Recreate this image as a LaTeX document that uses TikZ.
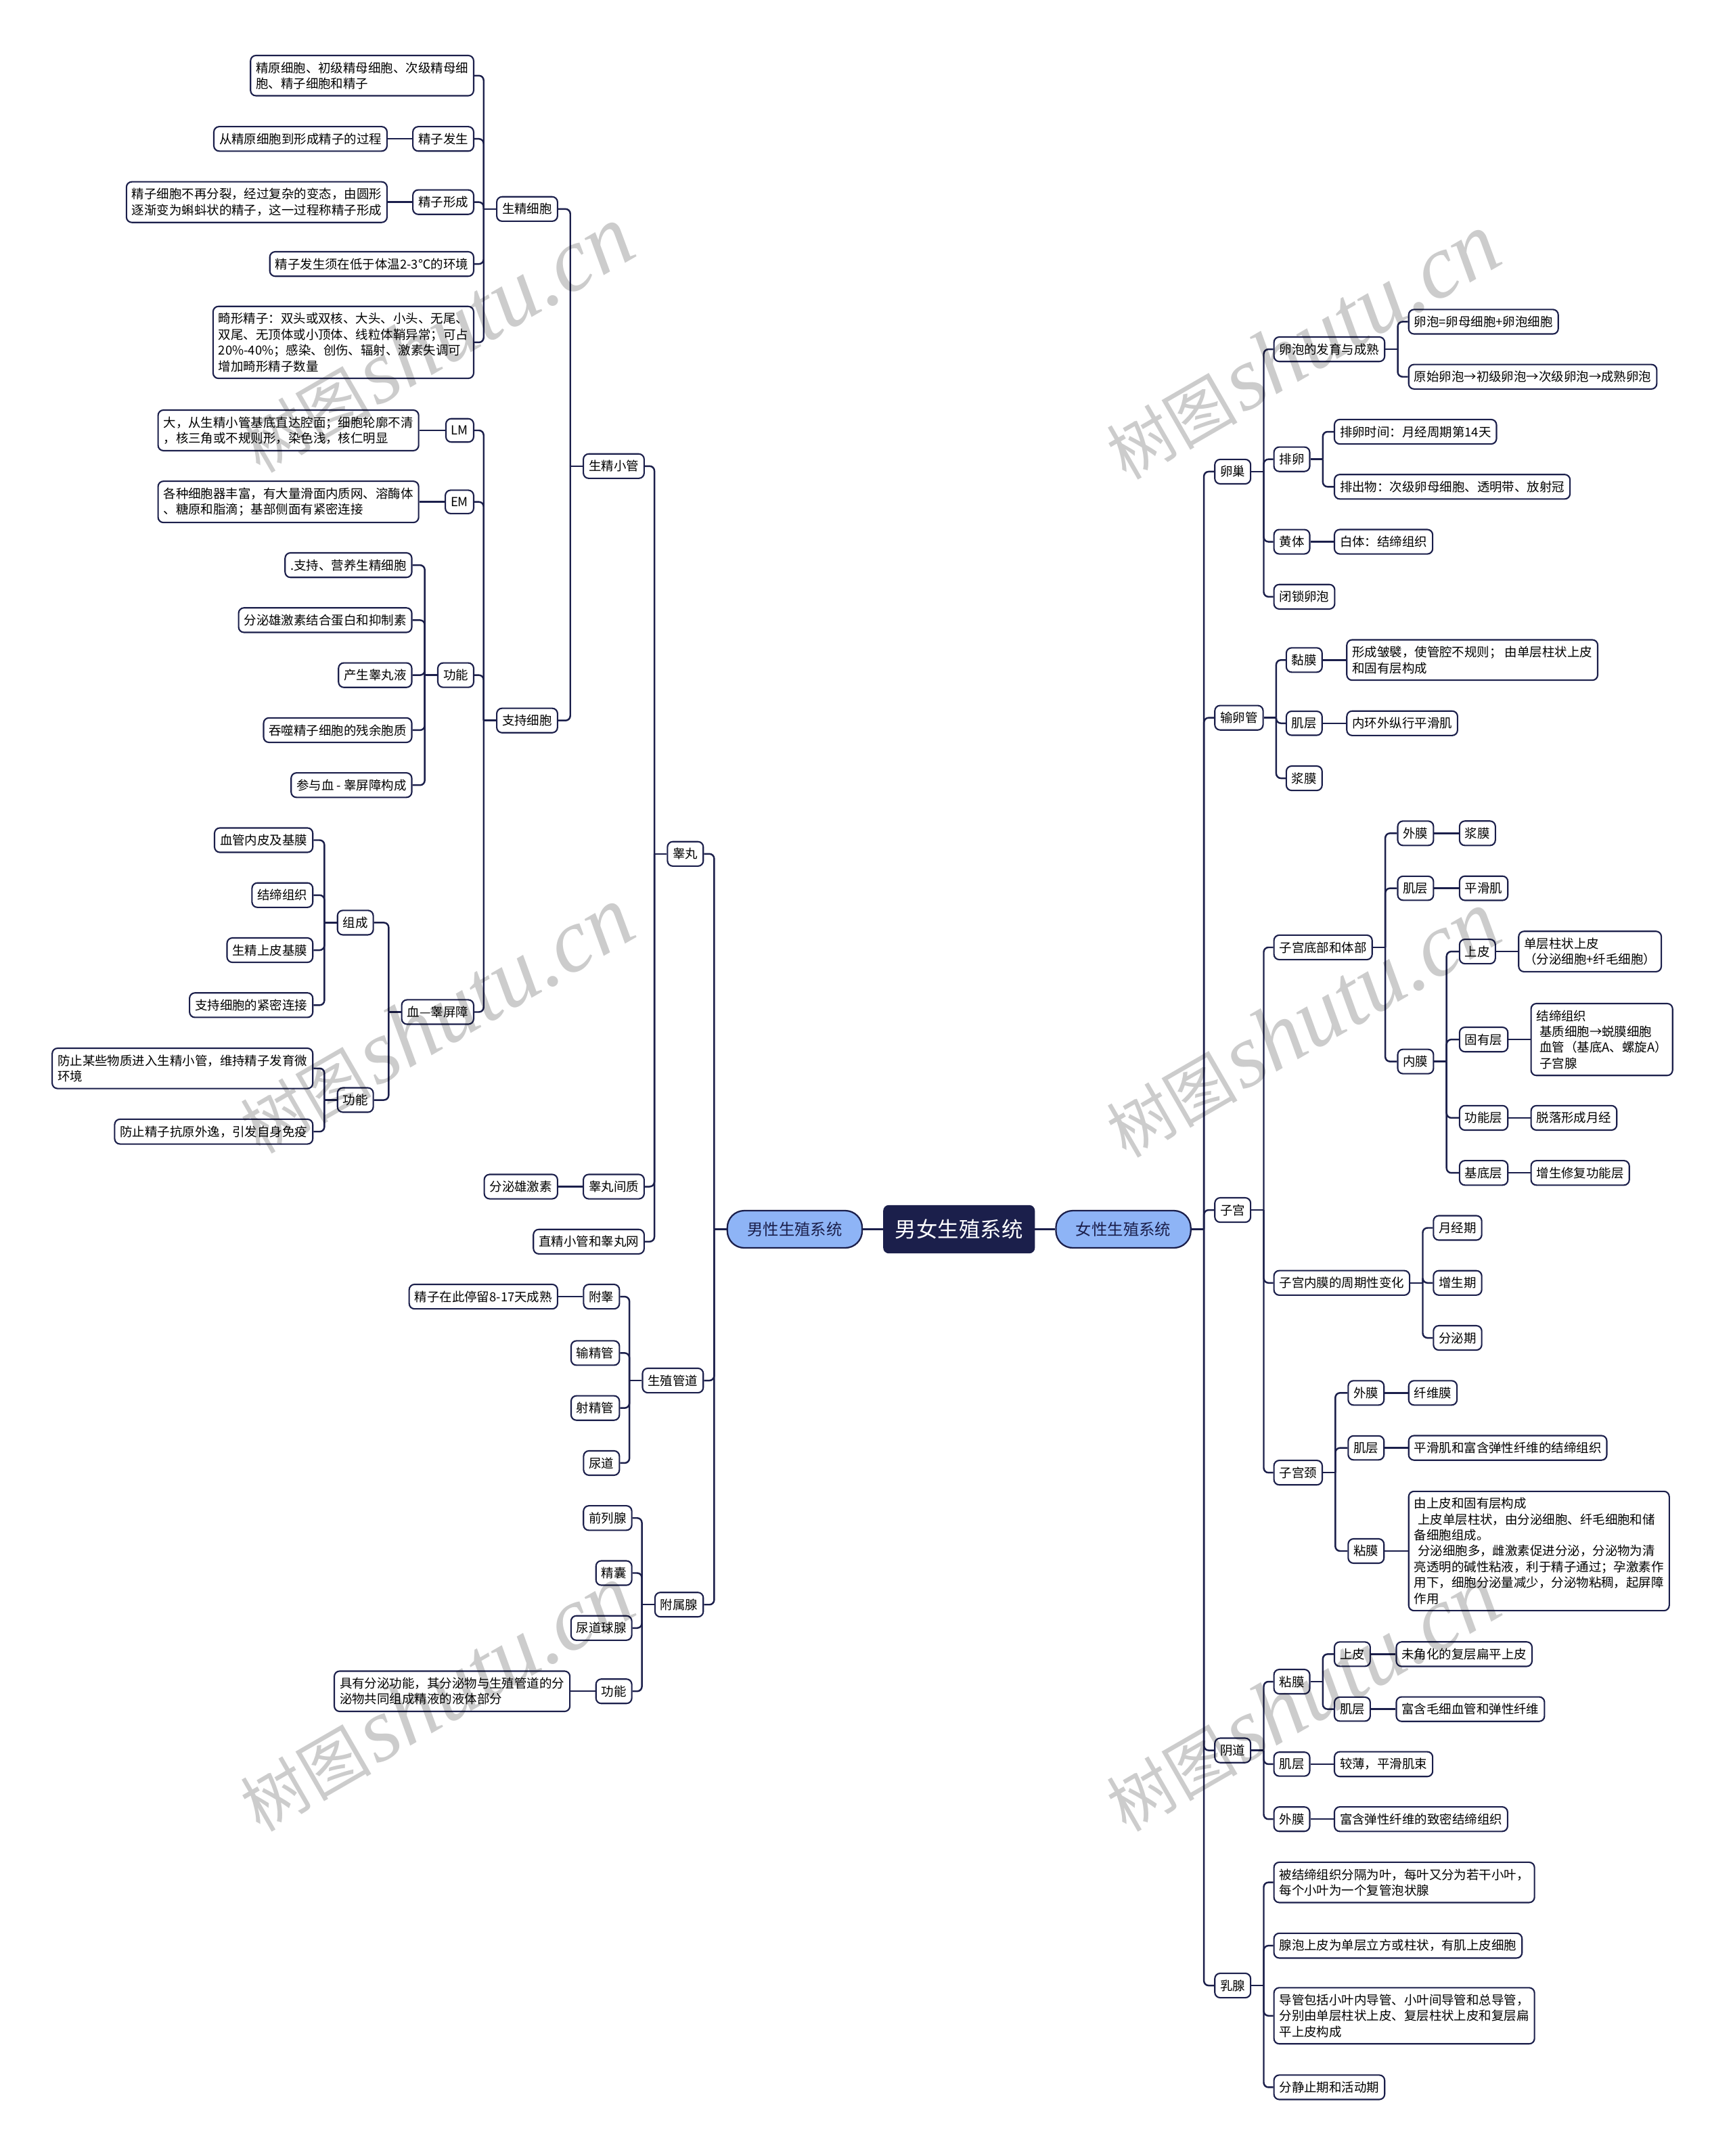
\documentclass[tikz,border=0pt]{standalone}
\usepackage{fontspec}
\setmainfont{Noto Sans CJK SC}
\newfontfamily\wmserif{Liberation Serif}
\usepackage{tikz}
\usetikzlibrary{positioning}
\definecolor{navy}{HTML}{1B1F4B}
\definecolor{pillblue}{HTML}{8EB4F6}

\begin{document}
\begin{tikzpicture}[
    x=0.04064cm, y=-0.04064cm,
    box/.style={draw=navy, line width=1.2pt, fill=white, rounded corners=4.5pt, inner xsep=0.16cm, inner ysep=0.19cm, minimum height=0.69cm, align=left, font=\fontsize{10.5}{13.3}\selectfont},
    lbox/.style={box, anchor=east},
    rbox/.style={box, anchor=west},
    branch/.style={draw=navy, line width=1.3pt, fill=pillblue, rounded corners=0.5cm, minimum height=1.1cm, inner xsep=0.59cm, text=navy, font=\fontsize{13.3}{16}\selectfont},
    root/.style={draw=navy, line width=1.3pt, fill=navy, rounded corners=4pt, minimum height=1.38cm, inner xsep=0.33cm, text=white, font=\fontsize{17.9}{20}\selectfont},
    link/.style={draw=navy, line width=1.4pt, rounded corners=4pt},
    watermark/.style={rotate=30, text=black, text opacity=0.2},
]
    \path[fill=white] (0,0) rectangle (1260,1568);
    \useasboundingbox (0,0) rectangle (1260,1568);

    % Centre
    \node[root] (root) at (697.5, 894) {男女生殖系统};
    \node[branch] (male) at (578, 894) {男性生殖系统};
    \node[branch] (female) at (817, 894) {女性生殖系统};
    \draw[link] (root.west) -- (male.east);
    \draw[link] (root.east) -- (female.west);

    % ---------------- Male ----------------
    \node[lbox] (testis) at (512, 621) {睾丸};
    \node[lbox] (duct) at (512, 1004) {生殖管道};
    \node[lbox] (gland) at (512, 1167) {附属腺};
    \draw[link] (male.west) -- ++(-9,0) coordinate (male-j);
    \draw[link] (male-j) |- (testis.east);
    \draw[link] (male-j) |- (duct.east);
    \draw[link] (male-j) |- (gland.east);

    % Testis
    \node[lbox] (tubule) at (469, 339) {生精小管};
    \node[lbox] (interst) at (469, 863) {睾丸间质};
    \node[lbox] (interst-a) at (406, 863) {分泌雄激素};
    \node[lbox] (rete) at (469, 903) {直精小管和睾丸网};
    \draw[link] (testis.west) -- ++(-9,0) coordinate (testis-j);
    \draw[link] (testis-j) |- (tubule.east);
    \draw[link] (testis-j) |- (interst.east);
    \draw[link] (testis-j) |- (rete.east);
    \draw[link] (interst.west) -- (interst-a.east);

    % Seminiferous tubule
    \node[lbox] (germ) at (406, 152) {生精细胞};
    \node[lbox] (sert) at (406, 524) {支持细胞};
    \draw[link] (tubule.west) -- ++(-9,0) coordinate (tubule-j);
    \draw[link] (tubule-j) |- (germ.east);
    \draw[link] (tubule-j) |- (sert.east);

    % Spermatogenic cells
    \node[lbox] (g1) at (345, 55) {精原细胞、初级精母细胞、次级精母细\\胞、精子细胞和精子};
    \node[lbox] (g2) at (345, 101) {精子发生};
    \node[lbox] (g2a) at (282, 101) {从精原细胞到形成精子的过程};
    \node[lbox] (g3) at (345, 147) {精子形成};
    \node[lbox] (g3a) at (282, 147) {精子细胞不再分裂，经过复杂的变态，由圆形\\逐渐变为蝌蚪状的精子，这一过程称精子形成};
    \node[lbox] (g4) at (345, 192) {精子发生须在低于体温2-3℃的环境};
    \node[lbox] (g5) at (345, 249) {畸形精子：双头或双核、大头、小头、无尾、\\双尾、无顶体或小顶体、线粒体鞘异常；可占\\20\%-40\%；感染、创伤、辐射、激素失调可\\增加畸形精子数量};
    \draw[link] (germ.west) -- ++(-9,0) coordinate (germ-j);
    \draw[link] (germ-j) |- (g1.east);
    \draw[link] (germ-j) |- (g2.east);
    \draw[link] (germ-j) |- (g3.east);
    \draw[link] (germ-j) |- (g4.east);
    \draw[link] (germ-j) |- (g5.east);
    \draw[link] (g2.west) -- (g2a.east);
    \draw[link] (g3.west) -- (g3a.east);

    % Sertoli cells
    \node[lbox] (lm) at (345, 313) {LM};
    \node[lbox] (lm-a) at (305, 313) {大，从生精小管基底直达腔面；细胞轮廓不清\\，核三角或不规则形，染色浅，核仁明显};
    \node[lbox] (em) at (345, 365) {EM};
    \node[lbox] (em-a) at (305, 365) {各种细胞器丰富，有大量滑面内质网、溶酶体\\、糖原和脂滴；基部侧面有紧密连接};
    \node[lbox] (sfun) at (345, 491) {功能};
    \node[lbox] (btb) at (345, 736) {血—睾屏障};
    \draw[link] (sert.west) -- ++(-9,0) coordinate (sert-j);
    \draw[link] (sert-j) |- (lm.east);
    \draw[link] (sert-j) |- (em.east);
    \draw[link] (sert-j) |- (sfun.east);
    \draw[link] (sert-j) |- (btb.east);
    \draw[link] (lm.west) -- (lm-a.east);
    \draw[link] (em.west) -- (em-a.east);

    \node[lbox] (f1) at (300, 411) {.支持、营养生精细胞};
    \node[lbox] (f2) at (300, 451) {分泌雄激素结合蛋白和抑制素};
    \node[lbox] (f3) at (300, 491) {产生睾丸液};
    \node[lbox] (f4) at (300, 531) {吞噬精子细胞的残余胞质};
    \node[lbox] (f5) at (300, 571) {参与血 - 睾屏障构成};
    \draw[link] (sfun.west) -- ++(-9,0) coordinate (sfun-j);
    \draw[link] (sfun-j) |- (f1.east);
    \draw[link] (sfun-j) |- (f2.east);
    \draw[link] (sfun-j) |- (f3.east);
    \draw[link] (sfun-j) |- (f4.east);
    \draw[link] (sfun-j) |- (f5.east);

    % Blood-testis barrier
    \node[lbox] (comp) at (272, 671) {组成};
    \node[lbox] (bfun) at (272, 800) {功能};
    \draw[link] (btb.west) -- ++(-9,0) coordinate (btb-j);
    \draw[link] (btb-j) |- (comp.east);
    \draw[link] (btb-j) |- (bfun.east);
    \node[lbox] (c1) at (228, 611) {血管内皮及基膜};
    \node[lbox] (c2) at (228, 651) {结缔组织};
    \node[lbox] (c3) at (228, 691) {生精上皮基膜};
    \node[lbox] (c4) at (228, 731) {支持细胞的紧密连接};
    \draw[link] (comp.west) -- ++(-9,0) coordinate (comp-j);
    \draw[link] (comp-j) |- (c1.east);
    \draw[link] (comp-j) |- (c2.east);
    \draw[link] (comp-j) |- (c3.east);
    \draw[link] (comp-j) |- (c4.east);
    \node[lbox] (b1) at (228, 777) {防止某些物质进入生精小管，维持精子发育微\\环境};
    \node[lbox] (b2) at (228, 823) {防止精子抗原外逸，引发自身免疫};
    \draw[link] (bfun.west) -- ++(-9,0) coordinate (bfun-j);
    \draw[link] (bfun-j) |- (b1.east);
    \draw[link] (bfun-j) |- (b2.east);

    % Genital ducts
    \node[lbox] (epid) at (451, 943) {附睾};
    \node[lbox] (epid-a) at (406, 943) {精子在此停留8-17天成熟};
    \node[lbox] (vas) at (451, 984) {输精管};
    \node[lbox] (ejac) at (451, 1024) {射精管};
    \node[lbox] (ureth) at (451, 1064) {尿道};
    \draw[link] (duct.west) -- ++(-9,0) coordinate (duct-j);
    \draw[link] (duct-j) |- (epid.east);
    \draw[link] (duct-j) |- (vas.east);
    \draw[link] (duct-j) |- (ejac.east);
    \draw[link] (duct-j) |- (ureth.east);
    \draw[link] (epid.west) -- (epid-a.east);

    % Accessory glands
    \node[lbox] (prost) at (460, 1104) {前列腺};
    \node[lbox] (semv) at (460, 1144) {精囊};
    \node[lbox] (bulb) at (460, 1184) {尿道球腺};
    \node[lbox] (gfun) at (460, 1230) {功能};
    \node[lbox] (gfun-a) at (415, 1230) {具有分泌功能，其分泌物与生殖管道的分\\泌物共同组成精液的液体部分};
    \draw[link] (gland.west) -- ++(-9,0) coordinate (gland-j);
    \draw[link] (gland-j) |- (prost.east);
    \draw[link] (gland-j) |- (semv.east);
    \draw[link] (gland-j) |- (bulb.east);
    \draw[link] (gland-j) |- (gfun.east);
    \draw[link] (gfun.west) -- (gfun-a.east);

    % ---------------- Female ----------------
    \node[rbox] (ovary) at (883, 343) {卵巢};
    \node[rbox] (tube) at (883, 522) {输卵管};
    \node[rbox] (uterus) at (883, 880) {子宫};
    \node[rbox] (vagina) at (883, 1273) {阴道};
    \node[rbox] (breast) at (883, 1444) {乳腺};
    \draw[link] (female.east) -- ++(9,0) coordinate (female-j);
    \draw[link] (female-j) |- (ovary.west);
    \draw[link] (female-j) |- (tube.west);
    \draw[link] (female-j) |- (uterus.west);
    \draw[link] (female-j) |- (vagina.west);
    \draw[link] (female-j) |- (breast.west);

    % Ovary
    \node[rbox] (foll) at (926, 254) {卵泡的发育与成熟};
    \node[rbox] (foll-a) at (1024, 234) {卵泡=卵母细胞+卵泡细胞};
    \node[rbox] (foll-b) at (1024, 274) {原始卵泡→初级卵泡→次级卵泡→成熟卵泡};
    \node[rbox] (ovul) at (926, 334) {排卵};
    \node[rbox] (ovul-a) at (970, 314) {排卵时间：月经周期第14天};
    \node[rbox] (ovul-b) at (970, 354) {排出物：次级卵母细胞、透明带、放射冠};
    \node[rbox] (luteum) at (926, 394) {黄体};
    \node[rbox] (luteum-a) at (970, 394) {白体：结缔组织};
    \node[rbox] (atret) at (926, 434) {闭锁卵泡};
    \draw[link] (ovary.east) -- ++(9,0) coordinate (ovary-j);
    \draw[link] (ovary-j) |- (foll.west);
    \draw[link] (ovary-j) |- (ovul.west);
    \draw[link] (ovary-j) |- (luteum.west);
    \draw[link] (ovary-j) |- (atret.west);
    \draw[link] (foll.east) -- ++(9,0) coordinate (foll-j);
    \draw[link] (foll-j) |- (foll-a.west);
    \draw[link] (foll-j) |- (foll-b.west);
    \draw[link] (ovul.east) -- ++(9,0) coordinate (ovul-j);
    \draw[link] (ovul-j) |- (ovul-a.west);
    \draw[link] (ovul-j) |- (ovul-b.west);
    \draw[link] (luteum.east) -- (luteum-a.west);

    % Oviduct
    \node[rbox] (tmuc) at (935, 480) {黏膜};
    \node[rbox] (tmuc-a) at (979, 480) {形成皱襞，使管腔不规则； 由单层柱状上皮\\和固有层构成};
    \node[rbox] (tmus) at (935, 526) {肌层};
    \node[rbox] (tmus-a) at (979, 526) {内环外纵行平滑肌};
    \node[rbox] (tser) at (935, 566) {浆膜};
    \draw[link] (tube.east) -- ++(9,0) coordinate (tube-j);
    \draw[link] (tube-j) |- (tmuc.west);
    \draw[link] (tube-j) |- (tmus.west);
    \draw[link] (tube-j) |- (tser.west);
    \draw[link] (tmuc.east) -- (tmuc-a.west);
    \draw[link] (tmus.east) -- (tmus-a.west);

    % Uterus
    \node[rbox] (ubody) at (926, 689) {子宫底部和体部};
    \node[rbox] (ucyc) at (926, 933) {子宫内膜的周期性变化};
    \node[rbox] (cervix) at (926, 1071) {子宫颈};
    \draw[link] (uterus.east) -- ++(9,0) coordinate (uterus-j);
    \draw[link] (uterus-j) |- (ubody.west);
    \draw[link] (uterus-j) |- (ucyc.west);
    \draw[link] (uterus-j) |- (cervix.west);

    \node[rbox] (uadv) at (1016, 606) {外膜};
    \node[rbox] (uadv-a) at (1061, 606) {浆膜};
    \node[rbox] (umus) at (1016, 646) {肌层};
    \node[rbox] (umus-a) at (1061, 646) {平滑肌};
    \node[rbox] (uendo) at (1016, 772) {内膜};
    \draw[link] (ubody.east) -- ++(9,0) coordinate (ubody-j);
    \draw[link] (ubody-j) |- (uadv.west);
    \draw[link] (ubody-j) |- (umus.west);
    \draw[link] (ubody-j) |- (uendo.west);
    \draw[link] (uadv.east) -- (uadv-a.west);
    \draw[link] (umus.east) -- (umus-a.west);

    \node[rbox] (ep) at (1061, 692) {上皮};
    \node[rbox] (ep-a) at (1104, 692) {单层柱状上皮\\（分泌细胞+纤毛细胞）};
    \node[rbox] (lp) at (1061, 756) {固有层};
    \node[rbox] (lp-a) at (1113, 756) {结缔组织\\\hspace*{0.25em}基质细胞→蜕膜细胞\\\hspace*{0.25em}血管（基底A、螺旋A）\\\hspace*{0.25em}子宫腺};
    \node[rbox] (funcl) at (1061, 813) {功能层};
    \node[rbox] (funcl-a) at (1113, 813) {脱落形成月经};
    \node[rbox] (basl) at (1061, 853) {基底层};
    \node[rbox] (basl-a) at (1113, 853) {增生修复功能层};
    \draw[link] (uendo.east) -- ++(9,0) coordinate (uendo-j);
    \draw[link] (uendo-j) |- (ep.west);
    \draw[link] (uendo-j) |- (lp.west);
    \draw[link] (uendo-j) |- (funcl.west);
    \draw[link] (uendo-j) |- (basl.west);
    \draw[link] (ep.east) -- (ep-a.west);
    \draw[link] (lp.east) -- (lp-a.west);
    \draw[link] (funcl.east) -- (funcl-a.west);
    \draw[link] (basl.east) -- (basl-a.west);

    \node[rbox] (mens) at (1042, 893) {月经期};
    \node[rbox] (prolif) at (1042, 933) {增生期};
    \node[rbox] (secr) at (1042, 973) {分泌期};
    \draw[link] (ucyc.east) -- ++(9,0) coordinate (ucyc-j);
    \draw[link] (ucyc-j) |- (mens.west);
    \draw[link] (ucyc-j) |- (prolif.west);
    \draw[link] (ucyc-j) |- (secr.west);

    \node[rbox] (cadv) at (980, 1013) {外膜};
    \node[rbox] (cadv-a) at (1024, 1013) {纤维膜};
    \node[rbox] (cmus) at (980, 1053) {肌层};
    \node[rbox] (cmus-a) at (1024, 1053) {平滑肌和富含弹性纤维的结缔组织};
    \node[rbox] (cmuc) at (980, 1128) {粘膜};
    \node[rbox] (cmuc-a) at (1024, 1128) {由上皮和固有层构成\\\hspace*{0.3em}上皮单层柱状，由分泌细胞、纤毛细胞和储\\备细胞组成。\\\hspace*{0.3em}分泌细胞多，雌激素促进分泌，分泌物为清\\亮透明的碱性粘液，利于精子通过；孕激素作\\用下，细胞分泌量减少，分泌物粘稠，起屏障\\作用};
    \draw[link] (cervix.east) -- ++(9,0) coordinate (cervix-j);
    \draw[link] (cervix-j) |- (cadv.west);
    \draw[link] (cervix-j) |- (cmus.west);
    \draw[link] (cervix-j) |- (cmuc.west);
    \draw[link] (cadv.east) -- (cadv-a.west);
    \draw[link] (cmus.east) -- (cmus-a.west);
    \draw[link] (cmuc.east) -- (cmuc-a.west);

    % Vagina
    \node[rbox] (vmuc) at (926, 1223) {粘膜};
    \node[rbox] (vep) at (970, 1203) {上皮};
    \node[rbox] (vep-a) at (1015, 1203) {未角化的复层扁平上皮};
    \node[rbox] (vlam) at (970, 1243) {肌层};
    \node[rbox] (vlam-a) at (1015, 1243) {富含毛细血管和弹性纤维};
    \node[rbox] (vmus) at (926, 1283) {肌层};
    \node[rbox] (vmus-a) at (970, 1283) {较薄，平滑肌束};
    \node[rbox] (vadv) at (926, 1323) {外膜};
    \node[rbox] (vadv-a) at (970, 1323) {富含弹性纤维的致密结缔组织};
    \draw[link] (vagina.east) -- ++(9,0) coordinate (vagina-j);
    \draw[link] (vagina-j) |- (vmuc.west);
    \draw[link] (vagina-j) |- (vmus.west);
    \draw[link] (vagina-j) |- (vadv.west);
    \draw[link] (vmuc.east) -- ++(9,0) coordinate (vmuc-j);
    \draw[link] (vmuc-j) |- (vep.west);
    \draw[link] (vmuc-j) |- (vlam.west);
    \draw[link] (vep.east) -- (vep-a.west);
    \draw[link] (vlam.east) -- (vlam-a.west);
    \draw[link] (vmus.east) -- (vmus-a.west);
    \draw[link] (vadv.east) -- (vadv-a.west);

    % Mammary gland
    \node[rbox] (br1) at (926, 1369) {被结缔组织分隔为叶，每叶又分为若干小叶，\\每个小叶为一个复管泡状腺};
    \node[rbox] (br2) at (926, 1415) {腺泡上皮为单层立方或柱状，有肌上皮细胞};
    \node[rbox] (br3) at (926, 1466) {导管包括小叶内导管、小叶间导管和总导管，\\分别由单层柱状上皮、复层柱状上皮和复层扁\\平上皮构成};
    \node[rbox] (br4) at (926, 1518) {分静止期和活动期};
    \draw[link] (breast.east) -- ++(9,0) coordinate (breast-j);
    \draw[link] (breast-j) |- (br1.west);
    \draw[link] (breast-j) |- (br2.west);
    \draw[link] (breast-j) |- (br3.west);
    \draw[link] (breast-j) |- (br4.west);

    % Watermarks
    \node[watermark] (wm1) at (317, 247) {{\fontsize{55}{55}\selectfont 树图}\hspace{0.35em}{\wmserif\itshape\fontsize{76}{76}\selectfont shutu.cn}};
    \node[watermark] (wm2) at (317, 742) {{\fontsize{55}{55}\selectfont 树图}\hspace{0.35em}{\wmserif\itshape\fontsize{76}{76}\selectfont shutu.cn}};
    \node[watermark] (wm3) at (317, 1235) {{\fontsize{55}{55}\selectfont 树图}\hspace{0.35em}{\wmserif\itshape\fontsize{76}{76}\selectfont shutu.cn}};
    \node[watermark] (wm4) at (947, 252) {{\fontsize{55}{55}\selectfont 树图}\hspace{0.35em}{\wmserif\itshape\fontsize{76}{76}\selectfont shutu.cn}};
    \node[watermark] (wm5) at (947, 745) {{\fontsize{55}{55}\selectfont 树图}\hspace{0.35em}{\wmserif\itshape\fontsize{76}{76}\selectfont shutu.cn}};
    \node[watermark] (wm6) at (947, 1235) {{\fontsize{55}{55}\selectfont 树图}\hspace{0.35em}{\wmserif\itshape\fontsize{76}{76}\selectfont shutu.cn}};
\end{tikzpicture}
\end{document}
